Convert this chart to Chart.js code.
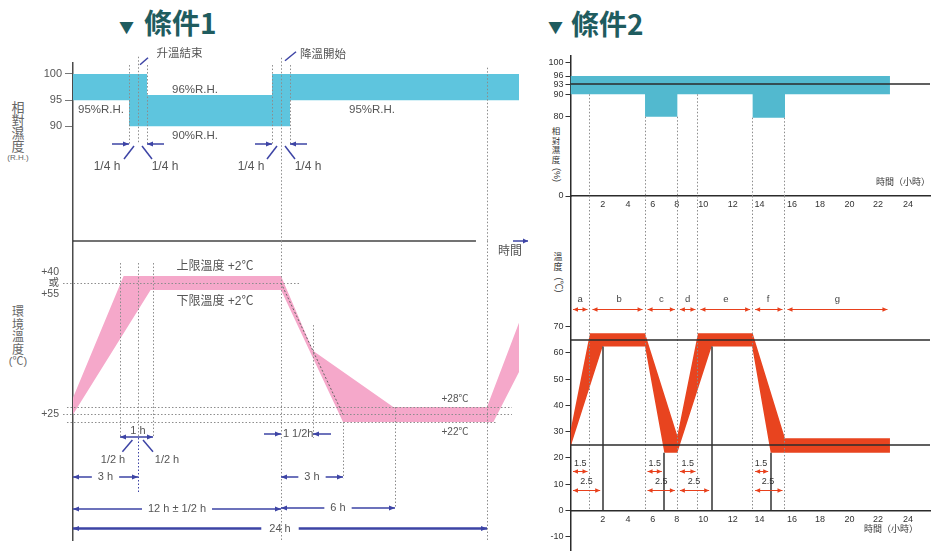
<!DOCTYPE html>
<html lang="zh-Hant">
<head>
<meta charset="utf-8">
<title>條件1・條件2 溫濕度循環</title>
<script src="https://cdn.jsdelivr.net/npm/chart.js@4/dist/chart.umd.min.js"></script>
<style>
  html, body { margin: 0; padding: 0; background: #fff; }
  #page { position: relative; width: 941px; height: 551px; overflow: hidden; background: #fff;
          font-family: "Liberation Sans", "Noto Sans CJK TC", sans-serif; }
  canvas { position: absolute; }
  .title { position: absolute; color: #1f5c5f; font-family: "Noto Sans CJK TC", sans-serif;
           font-weight: 700; line-height: 1; white-space: nowrap; }
  .tri { font-size: 15px; }
  .ttxt { font-size: 28px; }
  .stack { position: absolute; width: 16px; margin-left: -8px; text-align: center; color: #666;
           font-family: "Noto Sans CJK TC", sans-serif; }
  .unit { position: absolute; transform: translate(-50%, -50%); color: #666; white-space: nowrap; line-height: 1; }
  .rot { position: absolute; transform: translate(-50%, -50%) rotate(90deg); color: #333; white-space: nowrap; line-height: 1; }
</style>
</head>
<body>
<div id="page">
  <div class="title tri" style="left:119px;top:19px;">▼</div>
  <div class="title ttxt" style="left:144px;top:8px;">條件1</div>
  <div class="title tri" style="left:548px;top:19px;">▼</div>
  <div class="title ttxt" style="left:571px;top:9px;">條件2</div>

  <div class="stack" style="left:18px;top:100px;font-size:13px;line-height:13px;">相<br>對<br>濕<br>度</div>
  <div class="unit" style="left:18px;top:158px;font-size:8px;">(R.H.)</div>
  <div class="stack" style="left:18px;top:305px;font-size:12px;line-height:12.5px;">環<br>境<br>溫<br>度</div>
  <div class="unit" style="left:18px;top:361px;font-size:11px;">(℃)</div>
  <div class="stack" style="left:556px;top:126px;font-size:8.5px;line-height:9.5px;color:#333;">相<br>對<br>濕<br>度</div>
  <div class="rot" style="left:556px;top:175px;font-size:9px;">(%)</div>
  <div class="stack" style="left:558px;top:252px;font-size:9px;line-height:10px;color:#333;">溫<br>度</div>
  <div class="rot" style="left:558px;top:285px;font-size:9px;">(℃)</div>

  <canvas id="c1hum" width="530" height="215" style="left:0;top:40px;"></canvas>
  <canvas id="c1temp" width="530" height="360" style="left:0;top:201px;"></canvas>
  <canvas id="c2hum" width="411" height="175" style="left:530px;top:40px;"></canvas>
  <canvas id="c2temp" width="411" height="376" style="left:530px;top:185px;"></canvas>
</div>
<script>
// ---------------- 條件1 ----------------
const c1HumTicks = [90, 95, 100];
const c1HumUpperHours = [0, 3.25, 3.25, 11.75, 11.75, 26];
const c1HumUpper      = [100, 100, 96, 96, 100, 100];
const c1HumLowerHours = [0, 2.75, 2.75, 12.25, 12.25, 26];
const c1HumLower      = [95, 95, 90, 90, 95, 95];

const c1TempTicks = [25, 55];
const c1TempUpperHours = [0, 2.6, 12, 13.5, 17.9, 24, 26];
const c1TempUpper      = [30, 57, 57, 40, 28, 28, 46];
const c1TempLowerHours = [0, 3.4, 12, 15, 24.4, 26];
const c1TempLower      = [25, 53, 53, 22, 22, 35.5];
const c1TempLevels = [28, 25, 22];
const c1Plateau = 55;

// ---------------- 條件2 ----------------
const c2HourTicks = [2, 4, 6, 8, 10, 12, 14, 16, 18, 20, 22, 24];
const c2HumTicks = [0, 80, 90, 93, 96, 100];
const c2TempTicks = [-10, 0, 10, 20, 30, 40, 50, 60, 70];

const c2HumUpperHours = [0, 22.8];
const c2HumUpper      = [96, 96];
const c2HumLowerHours = [0, 5.38, 5.38, 8.05, 8.05, 13.49, 13.49, 15.57, 15.57, 22.8];
const c2HumLower      = [90, 90, 80, 80, 90, 90, 79, 79, 90, 90];
const c2HumRef = 93;

const c2TempUpperHours = [0, 1.21, 5.38, 8.05, 9.6, 13.49, 15.57, 22.8];
const c2TempUpper      = [30.5, 67.5, 67.5, 28.5, 67.5, 67.5, 27.5, 27.5];
const c2TempLowerHours = [0, 2, 5.38, 6.97, 8.05, 10.57, 13.45, 14.69, 22.8];
const c2TempLower      = [24.2, 62.5, 62.5, 22, 22, 62.5, 62.5, 22, 22];
const c2TempRefs = [65, 25];

const c2Phases = ['a', 'b', 'c', 'd', 'e', 'f', 'g'];
const c2PhaseBounds = [0, 1.21, 5.38, 8.05, 9.6, 13.49, 15.57, 22.8];
const c2PhaseHumFloor = [90, 80, 80, 90, 79, 79];   // where each inner boundary leaves the humidity band
const c2RampStart    = [0, 5.38, 8.05, 13.49];
const c2RampShortEnd = [1.21, 6.97, 9.6, 14.69];
const c2RampLongEnd  = [2, 8.05, 10.57, 15.57];
const c2RampLabels   = ['1.5', '2.5'];
const c2MarkHours = [2, 6.97, 10.57, 14.69];
const c2MarkTemps = [62.5, 22, 62.5, 22];

// ---------------- shared styling ----------------
const FONT = '"Liberation Sans", "Noto Sans CJK TC", sans-serif';
Chart.defaults.font.family = FONT;
Chart.defaults.color = '#555';
const TXT = '#555';
const BLUE = '#3d44a5';
const RED = '#e8401c';
const DOT = { color: '#8c8c8c', width: 1, dash: [1.5, 2] };
const BLUEDOT = { color: BLUE, width: 1, dash: [1.5, 2] };
const REF = { color: '#2b2b2b', width: 1.5 };
const MARK = { color: '#333', width: 1.5 };
const LEAD = { color: BLUE, width: 1.5 };

// Linear scale whose value-to-position mapping is piecewise linear through calibration knots
// ([value, offset along the axis]); the schematic time and level axes are not uniform.
class KnotScale extends Chart.LinearScale {
  static id = 'knots';
  static defaults = {};
  _offset(v) {
    const k = this.options.knots;
    let i = 1;
    while (i < k.length - 1 && v > k[i][0]) i++;
    const [v0, u0] = k[i - 1], [v1, u1] = k[i];
    return u0 + (v - v0) * (u1 - u0) / (v1 - v0);
  }
  getPixelForValue(value) {
    if (value === null || value === undefined || isNaN(value)) return NaN;
    const a = this._offset(this.min), b = this._offset(this.max);
    return this.getPixelForDecimal((this._offset(value) - a) / (b - a));
  }
  getValueForPixel(pixel) {
    const a = this._offset(this.min), b = this._offset(this.max);
    const u = a + this.getDecimalForPixel(pixel) * (b - a);
    const k = this.options.knots;
    let i = 1;
    while (i < k.length - 1 && u > k[i][1]) i++;
    const [v0, u0] = k[i - 1], [v1, u1] = k[i];
    return v0 + (u - u0) * (v1 - v0) / (u1 - u0);
  }
}
Chart.register(KnotScale);

const c1HourKnots = [[0, 0], [2.5, 47], [2.75, 56], [3, 65], [3.25, 74], [3.5, 80], [11.75, 199], [12, 208],
                     [12.25, 217], [13.5, 240], [15, 270], [18, 322], [24, 414], [26, 446]];
const c1TempKnots = [[22, 118], [28, 133], [53, 250], [57, 264]];
const c2HourKnots = [[0, 0], [2, 32.2], [4, 57.5], [6, 82.2], [8, 106.2], [10, 132.8], [12, 162.2], [14, 189],
                     [16, 221.5], [18, 249.5], [20, 279], [22, 307.5], [24, 337.5]];
const c2HumKnots = [[0, 0], [80, 79.3], [90, 101.7], [93, 111.7], [96, 120], [100, 133.7]];

// closed outline of a tolerance band: upper edge forward, lower edge back
function bandShape(upH, upV, loH, loV) {
  const pts = upH.map((h, i) => ({ x: h, y: upV[i] }));
  for (let i = loH.length - 1; i >= 0; i--) pts.push({ x: loH[i], y: loV[i] });
  return pts;
}
function bandDataset(points, color) {
  return { data: points, fill: 'shape', backgroundColor: color, borderColor: 'rgba(0,0,0,0)',
           borderWidth: 0, pointRadius: 0, tension: 0 };
}

// ---------------- annotation drawing ----------------
const vl = (x, y1, y2, st) => ({ kind: 'line', x1: x, x2: x, y1, y2, ...st });
const hl = (y, x1, x2, st) => ({ kind: 'line', x1, x2, y1: y, y2: y, ...st });
const seg = (x, y, dx1, dy1, dx2, dy2, st = LEAD) => ({ kind: 'line', x1: x, x2: x, y1: y, y2: y, dx1, dy1, dx2, dy2, ...st });
const ptr = (x, y, len, st = LEAD) => ({ kind: 'line', x1: x, x2: x, y1: y, y2: y, dx1: len, dx2: 0, head: true, ...st });
const txt = (text, x, y, dx, dy, align = 'center', size = 11, color = TXT) => ({ kind: 'text', text, x, y, dx, dy, align, size, color });
const dim = (x1, x2, y, o = {}) => ({ kind: 'dim', x1, x2, y, ...o });

function head(ctx, x, y, ang, color, L = 6, W = 2.6) {
  ctx.save();
  ctx.translate(x, y); ctx.rotate(ang);
  ctx.fillStyle = color;
  ctx.beginPath(); ctx.moveTo(0, 0); ctx.lineTo(-L, -W); ctx.lineTo(-L, W); ctx.closePath(); ctx.fill();
  ctx.restore();
}
const crisp = (p, w) => (Math.round(w) % 2 === 1 ? Math.round(p - 0.5) + 0.5 : Math.round(p));

const DRAW = {
  line(ctx, P, o) {
    let [x1, y1] = P(o.x1, o.y1, o.dx1, o.dy1);
    let [x2, y2] = P(o.x2, o.y2, o.dx2, o.dy2);
    const w = o.width || 1;
    if (x1 === x2) x1 = x2 = crisp(x1, w);
    if (y1 === y2) y1 = y2 = crisp(y1, w);
    ctx.save();
    ctx.strokeStyle = o.color; ctx.lineWidth = w; ctx.setLineDash(o.dash || []);
    ctx.beginPath(); ctx.moveTo(x1, y1); ctx.lineTo(x2, y2); ctx.stroke();
    ctx.restore();
    if (o.head) head(ctx, x2, y2, Math.atan2(y2 - y1, x2 - x1), o.color, o.hl || 6, o.hw || 2.6);
  },
  text(ctx, P, o) {
    const [x, y] = P(o.x, o.y, o.dx, o.dy);
    ctx.save();
    ctx.fillStyle = o.color; ctx.font = `${o.size}px ${FONT}`;
    ctx.textAlign = o.align; ctx.textBaseline = 'middle';
    ctx.fillText(o.text, x, y);
    ctx.restore();
  },
  dim(ctx, P, o) {
    const inset = o.inset || 0;
    let [x1, y] = P(o.x1, o.y);
    let [x2] = P(o.x2, o.y);
    x1 += inset; x2 -= inset;
    const color = o.color || BLUE, w = o.width || 1.5;
    y = crisp(y, w);
    const parts = [];
    ctx.save();
    if (o.label) {
      ctx.font = `${o.size || 11}px ${FONT}`;
      const tw = ctx.measureText(o.label).width, cx = (x1 + x2) / 2, g = o.gap ?? 6;
      parts.push([x1, cx - tw / 2 - g], [cx + tw / 2 + g, x2]);
      ctx.fillStyle = o.textColor || TXT; ctx.textAlign = 'center'; ctx.textBaseline = 'middle';
      ctx.fillText(o.label, cx, y);
    } else parts.push([x1, x2]);
    ctx.strokeStyle = color; ctx.lineWidth = w;
    ctx.beginPath();
    parts.forEach(([a, b]) => { ctx.moveTo(a, y); ctx.lineTo(b, y); });
    ctx.stroke();
    ctx.restore();
    const L = o.hl || 6, W = o.hw || 2.6;
    head(ctx, x1, y, Math.PI, color, L, W);
    head(ctx, x2, y, 0, color, L, W);
  }
};

function guides(items) {
  return {
    id: 'guides',
    afterDatasetsDraw(chart) {
      const { ctx } = chart;
      const xs = chart.scales.x, ys = chart.scales.y;
      const P = (x, y, dx = 0, dy = 0) => [xs.getPixelForValue(x) + (dx || 0), ys.getPixelForValue(y) + (dy || 0)];
      items.forEach(it => DRAW[it.kind](ctx, P, it));
    }
  };
}

function baseOptions(padding) {
  return {
    responsive: false, animation: false, events: [], devicePixelRatio: 1,
    layout: { autoPadding: false, padding },
    plugins: { legend: { display: false }, tooltip: { enabled: false } }
  };
}
const fixedTicks = list => scale => { scale.ticks = list.map(v => ({ value: v })); };

// ================= 條件1：相對濕度 =================
{
  const hMin = 68.07, hMax = 102.1;
  const items = [
    hl(hMin, 0, 23.28, { color: '#444', width: 1.6 }),
    vl(2.75, 101.7, 86.6, DOT), vl(3, 103.3, 86.6, DOT), vl(3.25, 101.7, 86.6, DOT),
    vl(11.75, 101.7, 86.6, DOT), vl(12, 103.1, hMin, DOT), vl(12.25, 101.7, 86.6, DOT),
    vl(24, 101.2, hMin, DOT),
    ptr(2.75, 86.6, -17), ptr(3.25, 86.6, 17), ptr(11.75, 86.6, -17), ptr(12.25, 86.6, 17),
    seg(3, 86.6, -4, 2, -14, 15), seg(3, 86.6, 4, 2, 14, 15),
    seg(12, 86.6, -4, 2, -14, 15), seg(12, 86.6, 4, 2, 14, 15),
    txt('1/4 h', 3, 86.6, -31, 23, 'center', 12), txt('1/4 h', 3, 86.6, 27, 23, 'center', 12),
    txt('1/4 h', 12, 86.6, -30, 23, 'center', 12), txt('1/4 h', 12, 86.6, 27, 23, 'center', 12),
    seg(3, 103.3, 2, 8, 10, 1), txt('升溫結束', 3, 103.3, 18.5, -3, 'left', 11.5),
    seg(12, 103.1, 4, 3, 15, -6), txt('降溫開始', 12, 103.1, 19, -3, 'left', 11.5),
    txt('96%R.H.', 3.25, 96, 48, -5, 'center', 11.5),
    txt('90%R.H.', 3.25, 90, 48, 10, 'center', 11.5),
    txt('95%R.H.', 0, 95, 5, 10, 'left', 11.5),
    txt('95%R.H.', 12.25, 95, 82, 10, 'center', 11.5)
  ];
  new Chart(document.getElementById('c1hum'), {
    type: 'line',
    data: { datasets: [bandDataset(bandShape(c1HumUpperHours, c1HumUpper, c1HumLowerHours, c1HumLower), '#5ec5de')] },
    options: {
      ...baseOptions({ left: 0, top: 23, right: 11, bottom: 14 }),
      scales: {
        x: { type: 'knots', knots: c1HourKnots, min: 0, max: 26, display: false },
        y: {
          type: 'linear', min: hMin, max: hMax,
          afterBuildTicks: fixedTicks(c1HumTicks),
          afterFit: s => { s.width = 73; },
          border: { display: true, color: '#4a4a4a', width: 1.5 },
          grid: { drawOnChartArea: false, drawTicks: true, tickLength: 8, color: '#777', lineWidth: 1 },
          ticks: { padding: 3, autoSkip: false, color: '#555', font: { size: 11 }, callback: v => String(v) }
        }
      }
    },
    plugins: [guides(items)]
  });
}

// ================= 條件1：環境溫度 =================
{
  const tMin = -25.2, tMax = 67;
  const items = [
    hl(c1Plateau, -0.53, 12.8, DOT),
    hl(c1TempLevels[0], -0.32, 25.56, DOT), hl(c1TempLevels[1], -0.53, 25.56, DOT), hl(c1TempLevels[2], -0.32, 24.62, DOT),
    vl(2.5, 60.7, 15.6, DOT), vl(3, 60.7, 15.6, DOT), vl(3.5, 60.7, 15.6, DOT), vl(3, 15.6, -6, BLUEDOT),
    vl(12, tMax, tMin, DOT), vl(13.5, 45.5, 15.6, DOT), vl(15, 22, -0.5, DOT), vl(18, 28, -12.4, DOT),
    vl(24, tMax, tMin, DOT),
    { kind: 'line', x1: 12, y1: c1Plateau, x2: 15, y2: c1TempLevels[1], color: '#666', width: 1, dash: [2, 2] },
    dim(2.5, 3.5, 16), txt('1 h', 3, 16, 0, -6),
    seg(3, 16, -5.6, 3, -15.6, 14.7), seg(3, 16, 5, 3, 15, 14.7),
    txt('1/2 h', 3, 16, -25, 23), txt('1/2 h', 3, 16, 29, 23),
    dim(0, 3, 0, { label: '3 h' }),
    dim(0, 12, -12.8, { label: '12 h ± 1/2 h' }),
    dim(0, 24, -20.4, { label: '24 h', width: 2.5, gap: 8 }),
    ptr(12, 17.2, -17), ptr(13.5, 17.2, 18), txt('1 1/2h', 12.75, 17.2, -1, 0),
    dim(12, 15, 0, { label: '3 h' }),
    dim(12, 18, -12.4, { label: '6 h' }),
    txt('上限溫度 +2℃', 12, 57, -66, -9, 'center', 12),
    txt('下限溫度 +2℃', 12, 53, -66, 12, 'center', 12),
    txt('+28℃', 24, 28, -32, -8, 'center', 10),
    txt('+22℃', 24, 22, -32, 10, 'center', 10),
    txt('時間', 24, tMax, 23, 11, 'center', 12),
    { kind: 'line', x1: 24, y1: tMax, dx1: 26, x2: 24, y2: tMax, dx2: 41, head: true, color: BLUE, width: 1.5, hl: 5, hw: 2.4 }
  ];
  new Chart(document.getElementById('c1temp'), {
    type: 'line',
    data: { datasets: [bandDataset(bandShape(c1TempUpperHours, c1TempUpper, c1TempLowerHours, c1TempLower), '#f5a8ca')] },
    options: {
      ...baseOptions({ left: 0, top: 40, right: 11, bottom: 21 }),
      scales: {
        x: { type: 'knots', knots: c1HourKnots, min: 0, max: 26, display: false },
        y: {
          type: 'knots', knots: c1TempKnots, min: tMin, max: tMax,
          afterBuildTicks: fixedTicks(c1TempTicks),
          afterFit: s => { s.width = 73; },
          border: { display: true, color: '#4a4a4a', width: 1.5 },
          grid: { display: false, drawTicks: false },
          ticks: {
            padding: 14, autoSkip: false, color: '#555', font: { size: 10.5, lineHeight: 1.05 },
            callback: v => (v === c1Plateau ? ['+40', '或', '+55'] : '+' + v)
          }
        }
      }
    },
    plugins: [guides(items)]
  });
}

// ================= 條件2：相對濕度 =================
{
  const xMax = 25.47, hMax = 101.84;
  const inner = c2PhaseBounds.slice(1, -1);
  const items = [
    hl(c2HumRef, 0, xMax, REF),
    ...inner.map((h, i) => vl(h, c2PhaseHumFloor[i], 0, DOT)),
    txt('時間（小時）', xMax, 0, 0, -13, 'right', 9, '#333')
  ];
  new Chart(document.getElementById('c2hum'), {
    type: 'line',
    data: { datasets: [bandDataset(bandShape(c2HumUpperHours, c2HumUpper, c2HumLowerHours, c2HumLower), '#52b9cf')] },
    options: {
      ...baseOptions({ left: 0, top: 16, right: 11, bottom: 0 }),
      scales: {
        x: {
          type: 'knots', knots: c2HourKnots, min: 0, max: xMax, position: 'bottom',
          afterBuildTicks: fixedTicks(c2HourTicks),
          afterFit: s => { s.height = 19; },
          border: { display: true, color: '#2b2b2b', width: 1.5 },
          grid: { display: false, drawTicks: false },
          ticks: { padding: 3, autoSkip: false, maxRotation: 0, color: '#333', font: { size: 9 }, callback: v => String(v) }
        },
        y: {
          type: 'knots', knots: c2HumKnots, min: 0, max: hMax,
          afterBuildTicks: fixedTicks(c2HumTicks),
          afterFit: s => { s.width = 40.5; },
          border: { display: true, color: '#2b2b2b', width: 1.5 },
          grid: { drawOnChartArea: false, drawTicks: true, tickLength: 5, color: '#333', lineWidth: 1 },
          ticks: { padding: 2, autoSkip: false, color: '#333', font: { size: 9 }, callback: v => String(v) }
        }
      }
    },
    plugins: [guides(items)]
  });
}

// ================= 條件2：溫度 =================
{
  const xMax = 25.47, tMin = -15.42, tMax = 119.78;
  const inner = c2PhaseBounds.slice(1, -1);
  const RED_ARROW = { color: RED, width: 1, inset: 2.5, hl: 5, hw: 2.2 };
  const items = [
    ...inner.map(h => vl(h, tMax, 0, DOT)),
    ...c2TempRefs.map(t => hl(t, 0, xMax, REF)),
    ...c2MarkHours.map((h, i) => vl(h, 0, c2MarkTemps[i], MARK)),
    ...c2Phases.flatMap((p, i) => {
      const a = c2PhaseBounds[i], b = c2PhaseBounds[i + 1];
      return [dim(a, b, 76.6, RED_ARROW), txt(p, (a + b) / 2, 76.6, 0, -10, 'center', 9.5, '#444')];
    }),
    ...c2RampStart.flatMap((s, i) => [
      dim(s, c2RampShortEnd[i], 15, RED_ARROW),
      txt(c2RampLabels[0], (s + c2RampShortEnd[i]) / 2, 15, 0, -8, 'center', 9, '#333'),
      dim(s, c2RampLongEnd[i], 7.5, RED_ARROW),
      txt(c2RampLabels[1], (s + c2RampLongEnd[i]) / 2, 7.5, 0, -9.5, 'center', 9, '#333')
    ]),
    txt('時間（小時）', 24.67, 0, 0, 19.5, 'right', 9, '#333')
  ];
  new Chart(document.getElementById('c2temp'), {
    type: 'line',
    data: { datasets: [bandDataset(bandShape(c2TempUpperHours, c2TempUpper, c2TempLowerHours, c2TempLower), '#e8441f')] },
    options: {
      ...baseOptions({ left: 0, top: 11, right: 11, bottom: 10 }),
      scales: {
        x: {
          type: 'knots', knots: c2HourKnots, min: 0, max: xMax, position: { y: 0 },
          afterBuildTicks: fixedTicks(c2HourTicks),
          border: { display: true, color: '#2b2b2b', width: 1.5 },
          grid: { display: false, drawTicks: false },
          ticks: { padding: 4, autoSkip: false, maxRotation: 0, color: '#333', font: { size: 9 }, callback: v => String(v) }
        },
        y: {
          type: 'linear', min: tMin, max: tMax,
          afterBuildTicks: fixedTicks(c2TempTicks),
          afterFit: s => { s.width = 40.5; },
          border: { display: true, color: '#2b2b2b', width: 1.5 },
          grid: { drawOnChartArea: false, drawTicks: true, tickLength: 5, color: '#333', lineWidth: 1 },
          ticks: { padding: 2, autoSkip: false, color: '#333', font: { size: 9 }, callback: v => String(v) }
        }
      }
    },
    plugins: [guides(items)]
  });
}
</script>
</body>
</html>
